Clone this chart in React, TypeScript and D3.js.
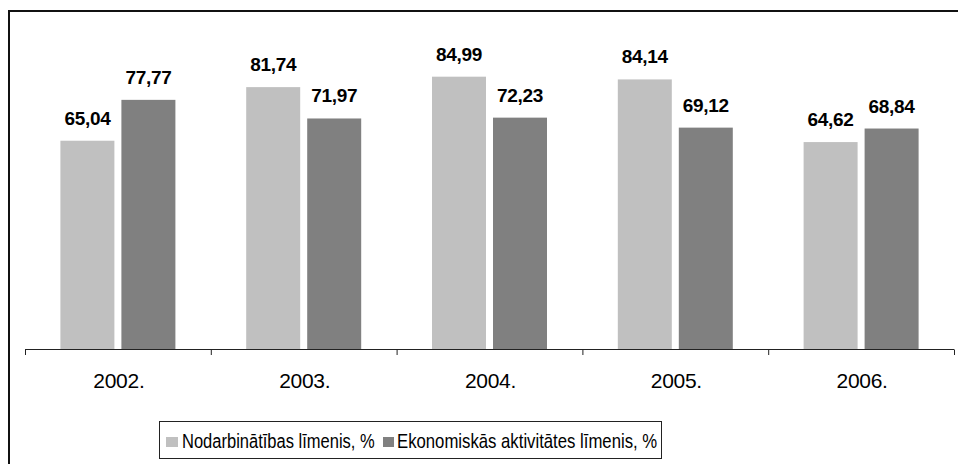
import React from "react";
import * as d3 from "d3";

const categories = ["2002.", "2003.", "2004.", "2005.", "2006."];
const seriesNames = ["Nodarbinātības līmenis, %", "Ekonomiskās aktivitātes līmenis, %"];
const employment = [65.04, 81.74, 84.99, 84.14, 64.62];
const activity = [77.77, 71.97, 72.23, 69.12, 68.84];
const colors = ["#C0C0C0", "#808080"];

const W = 958;
const H = 464;
const FONT = "'Liberation Sans', Arial, Helvetica, sans-serif";

export default function App() {
  const values = [employment, activity];
  const x0 = d3.scaleBand<string>().domain(categories).range([25, 954]).padding(0);
  const y = d3.scaleLinear().domain([0, 100]).range([349.5, 28.5]);
  const fmt = (v: number) => v.toFixed(2).replace(".", ",");
  const tickXs = [...categories.map((c) => x0(c) as number), 954];

  return (
    <svg
      width={W}
      height={H}
      style={{ position: "absolute", left: 0, top: 0, background: "#fff" }}
      fontFamily={FONT}
    >
      <rect x={0} y={0} width={W} height={H} fill="#fff" />
      <rect x={9} y={11} width={1000} height={500} fill="none" stroke="#111" strokeWidth={2} />
      {categories.map((c, i) => {
        const cx = (x0(c) as number) + x0.bandwidth() / 2;
        const x1 = d3
          .scaleBand<number>()
          .domain([0, 1])
          .range([cx - 57.5, cx + 57.5])
          .paddingInner(2 - 115 / 61);
        return (
          <g key={c}>
            {values.map((s, k) => {
              const v = s[i];
              const bx = x1(k) as number;
              return (
                <g key={k}>
                  <rect x={bx} y={y(v)} width={x1.bandwidth()} height={y(0) - y(v)} fill={colors[k]} />
                  <text
                    x={bx + x1.bandwidth() / 2}
                    y={y(v) - 16}
                    textAnchor="middle"
                    fontWeight="bold"
                    fontSize={19}
                    letterSpacing={-0.3}
                    fill="#000"
                  >
                    {fmt(v)}
                  </text>
                </g>
              );
            })}
            <text x={cx + 1} y={388} textAnchor="middle" fontSize={21} letterSpacing={-0.3} fill="#000">
              {c}
            </text>
          </g>
        );
      })}
      <line x1={25} x2={954} y1={349.5} y2={349.5} stroke="#222" strokeWidth={1} />
      {tickXs.map((tx, i) => (
        <line key={i} x1={tx + 0.5} x2={tx + 0.5} y1={349.5} y2={355} stroke="#222" strokeWidth={1} />
      ))}
      <rect x={159.5} y={421.5} width={502} height={37} fill="#fff" stroke="#222" strokeWidth={1} />
      <rect x={166} y={437} width={12} height={10} fill={colors[0]} />
      <g transform="translate(182,447.5) scale(0.787,1)">
        <text x={0} y={0} fontSize={21} fill="#000">
          {seriesNames[0]}
        </text>
      </g>
      <rect x={383} y={437} width={11} height={10} fill={colors[1]} />
      <g transform="translate(397,447.5) scale(0.797,1)">
        <text x={0} y={0} fontSize={21} fill="#000">
          {seriesNames[1]}
        </text>
      </g>
    </svg>
  );
}
